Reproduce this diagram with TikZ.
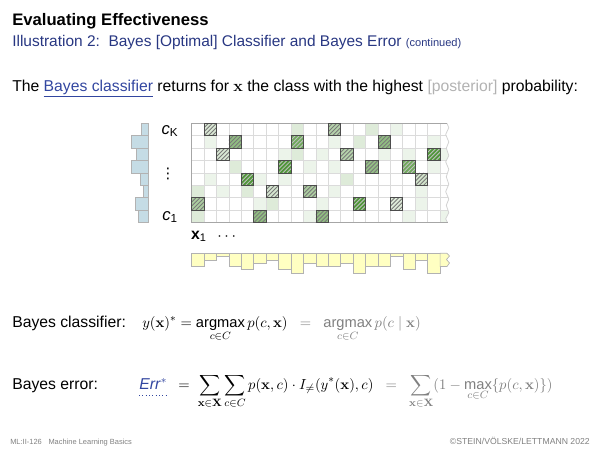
\documentclass[tikz,border=0pt]{standalone}
\usepackage[no-math]{fontspec}
\setmainfont{Liberation Sans}
\newfontfamily\symfont{DejaVu Sans}
\usepackage{amsmath}
\usetikzlibrary{positioning}
\definecolor{cellgreen}{RGB}{70,145,45}
\definecolor{headblue}{RGB}{40,55,130}
\definecolor{linkblue}{RGB}{50,70,160}
\definecolor{histblue}{RGB}{197,220,229}
\definecolor{histyellow}{RGB}{255,255,194}
\tikzset{
  lbl/.style={inner sep=0pt, anchor=base west, font=\fontsize{11.8}{14}\selectfont},
  gridline/.style={draw=gray!28, line width=0.6pt},
  gridedge/.style={draw=gray!70, line width=0.9pt},
  tear/.style={draw=gray!35, line width=0.6pt},
  hatch/.style={line width=0.65pt},
  argedge/.style={draw=black!70, line width=0.6pt},
  rowbar/.style={fill=histblue, draw=gray!60, line width=0.5pt},
  colbar/.style={fill=histyellow, draw=gray!60, line width=0.5pt}
}
\begin{document}
\begin{tikzpicture}[x=0.75pt, y=-0.75pt]
  \useasboundingbox (0,0) rectangle (600,450);

  \node[lbl, font=\fontsize{12.5}{15}\selectfont\bfseries] (title) at (12,25) {Evaluating Effectiveness};
  \node[lbl, text=headblue, font=\fontsize{11.6}{13}\selectfont] (subtitle) at (12,46)
    {Illustration 2:\ \ Bayes [Optimal] Classifier and Bayes Error {\fontsize{8.3}{9}\selectfont (continued)}};
  \node[lbl] (intro) at (12,91) {The \textcolor{linkblue}{\underline{Bayes classifier}} returns for
    $\mathbf{x}$ the class with the highest \textcolor{gray!60}{[posterior]} probability:};

  % class histogram
  \foreach \w [count=\r] in {6.7,16.7,11.7,16.7,8.3,5,13.3,10}
    \draw[rowbar] ({148.3-\w},{123.3+(\r-1)*12.42}) rectangle (148.3,{123.3+\r*12.42});
  \node[font=\fontsize{12.5}{14}\selectfont] (ck) at (170,131) {\textit{c}\textsubscript{K}};
  \node[font=\fontsize{11}{14}\selectfont] (cdots) at (168,174) {\symfont ⋮};
  \node[font=\fontsize{12.5}{14}\selectfont] (c1) at (170,217) {\textit{c}\textsubscript{1}};

  % joint distribution grid
  \begin{scope}[shift={(191.7,123.3)}, x=9.315pt, y=-9.315pt]
    \begin{scope}
      \clip (0,0) -- (20.55,0) -- (20.7,0.35) -- (20.45,0.9) -- (20.7,1.5) -- (20.5,2.0) -- (20.7,2.6)
        -- (20.45,3.1) -- (20.7,3.7) -- (20.5,4.3) -- (20.7,4.9) -- (20.45,5.5) -- (20.7,6.1)
        -- (20.5,6.6) -- (20.7,7.2) -- (20.45,7.7) -- (20.6,8) -- (0,8) -- cycle;
      \foreach \c/\r/\p in {9/1/18, 2/2/10, 8/3/10, 9/3/18, 11/3/10, 4/4/18, 10/4/10, 2/5/10,
          6/5/10, 8/5/10, 1/6/18, 3/6/10, 5/6/18, 6/7/10, 7/7/18, 1/8/18, 10/8/10, 15/1/18,
          17/1/10, 12/2/10, 14/2/18, 20/2/10, 16/3/10, 18/3/10, 21/3/10, 12/4/10, 20/4/10,
          13/5/18, 12/6/10, 19/6/10, 11/7/10, 19/7/10, 18/8/10, 21/8/10}
        \fill[cellgreen!\p] (\c-1,\r-1) rectangle (\c,\r);
      \foreach \c in {1,...,21} \draw[gridline] (\c,0) -- (\c,8);
      \foreach \r in {1,...,7} \draw[gridline] (0,\r) -- (21,\r);
    \end{scope}
    \draw[tear] (20.55,0) -- (20.7,0.35) -- (20.45,0.9) -- (20.7,1.5) -- (20.5,2.0) -- (20.7,2.6)
      -- (20.45,3.1) -- (20.7,3.7) -- (20.5,4.3) -- (20.7,4.9) -- (20.45,5.5) -- (20.7,6.1)
      -- (20.5,6.6) -- (20.7,7.2) -- (20.45,7.7) -- (20.6,8);
    \draw[gridedge] (20.55,0) -- (0,0) -- (0,8) -- (20.6,8);
    % most probable class per column
    \foreach \c/\r/\p in {1/7/45, 2/1/20, 3/3/20, 4/2/60, 5/5/95, 6/8/60, 7/6/22, 8/4/95,
        9/2/78, 10/6/45, 11/8/60, 12/1/40, 13/3/40, 14/7/95, 15/4/58, 16/2/60, 17/7/18,
        18/4/78, 19/5/25, 20/3/95} {
      \pgfmathtruncatemacro\hc{\p>70 ? 25 : 52}
      \fill[cellgreen!\p] (\c-1,\r-1) rectangle (\c,\r);
      \begin{scope}
        \clip (\c-1,\r-1) rectangle (\c,\r);
        \foreach \d in {-0.66,-0.33,0,0.33,0.66} \draw[hatch, black!\hc] (\c-1+\d,\r) -- ++(1,-1);
      \end{scope}
      \draw[argedge] (\c-1,\r-1) rectangle (\c,\r);
    }
  \end{scope}

  \node[font=\fontsize{11.8}{14}\selectfont] (x1) at (199,236.5) {\textbf{x}\textsubscript{1}};
  \node[font=\fontsize{11.8}{14}\selectfont] (xdots) at (228,237) {$\cdots$};

  % marginal histogram
  \foreach \h [count=\c] in {4,2,1,4,5,3,2,5,6,3,4,4,3,6,4,4,1,5,2,6}
    \draw[colbar] ({191.7+(\c-1)*12.42},253.3) rectangle ++(12.42,\h*3.3);
  \draw[colbar] (440.1,253.3) -- (447,253.3) -- (449.5,256) -- (446.5,259.5) -- (449.5,263)
    -- (447,266.5) -- (440.1,266.5) -- cycle;

  % formulas
  \node[lbl] (bclabel) at (12,327) {Bayes classifier:};
  \node[lbl, font=\fontsize{11}{13}\selectfont] (bcform) at (142,327) {$y(\mathbf{x})^* =
    \mathop{\text{argmax}}\limits_{c\in C} p(c,\mathbf{x})
    \;\;\color{gray}=\;\; \mathop{\text{argmax}}\limits_{c\in C} p(c\mid\mathbf{x})$};
  \node[lbl] (belabel) at (12,389) {Bayes error:};
  \node[lbl, text=linkblue] (err) at (139,389) {\textit{Err}$^*$};
  \draw[linkblue, dotted, line width=0.5pt] ([yshift=-5pt]err.base west) -- ([yshift=-5pt]err.base east);
  \node[lbl, font=\fontsize{11}{13}\selectfont, base right=8pt of err] (beform)
    {$=\;\displaystyle\sum_{\mathbf{x}\in\mathbf{X}}\sum_{c\in C}
    p(\mathbf{x},c)\cdot I_{\neq}(y^*(\mathbf{x}),c) \;\;\color{gray}=\;\; \sum_{\mathbf{x}\in\mathbf{X}}
    (1-\mathop{\text{max}}\limits_{c\in C}\{p(c,\mathbf{x})\})$};

  \node[lbl, text=gray, font=\fontsize{5.6}{7}\selectfont] (foot) at (10,444)
    {ML:II-126\hspace{0.9em}Machine Learning Basics};
  \node[lbl, anchor=base east, text=gray, font=\fontsize{6.5}{7}\selectfont] (copy) at (590,444)
    {\textcopyright STEIN/VÖLSKE/LETTMANN 2022};
\end{tikzpicture}
\end{document}
